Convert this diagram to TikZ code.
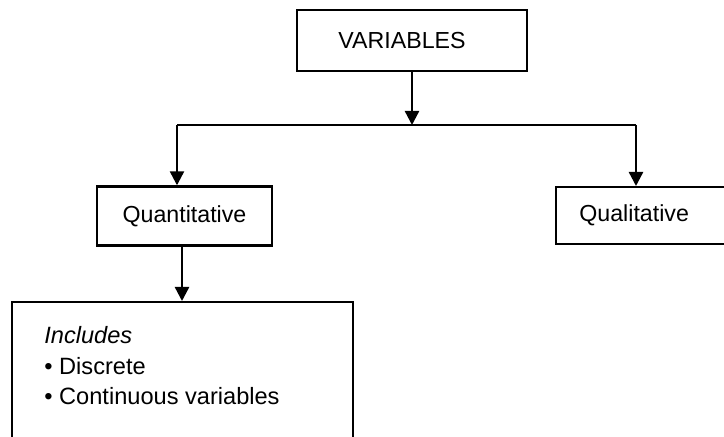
\documentclass[tikz,border=0pt]{standalone}
\usepackage{fontspec}
\setmainfont{Liberation Sans}
\usetikzlibrary{arrows.meta}
\begin{document}
\begin{tikzpicture}[x=0.5pt,y=-0.5pt,
  box/.style={draw,line width=1.2pt,rectangle,inner sep=0pt,font=\fontsize{11.6}{13}\selectfont},
  arr/.style={line width=1.2pt,-{Triangle[length=7pt,width=7pt]}},
  wire/.style={line width=1.2pt}]
  \useasboundingbox (0,0) rectangle (724,437);
  \clip (0,0) rectangle (724,437);
  % boxes
  \node[box,minimum width=115pt,minimum height=30.5pt] (var) at (412,40.5) {\hspace*{-10pt}VARIABLES};
  \node[box,minimum width=87.5pt,minimum height=29.5pt] (quant) at (184.5,216) {Quantitative};
  \node[box,minimum width=86pt,minimum height=28.5pt,anchor=north west] (qual) at (555,186) {\hspace*{-8pt}Qualitative};
  \node[box,minimum width=170.5pt,minimum height=80pt,anchor=north west] (inc) at (11,301) {};
  \node[anchor=north west,align=left,inner sep=0pt,font=\fontsize{11.8}{15.3}\selectfont] (inctext) at (44,326)
    {\textit{Includes}\\\textbullet\ Discrete\\\textbullet\ Continuous variables};
  % branch points
  \coordinate (jn) at (412,125);
  \coordinate (jl) at (177,125);
  \coordinate (jr) at (636,125);
  % connectors
  \draw[arr] (var.south) -- (jn);
  \draw[wire] (jl) -- (jr);
  \draw[arr] (jl) -- (jl |- quant.north);
  \draw[arr] (jr) -- (jr |- qual.north);
  \draw[arr] ([xshift=-1.25pt]quant.south) -- ([xshift=-1.25pt]quant.south |- inc.north);
\end{tikzpicture}
\end{document}
